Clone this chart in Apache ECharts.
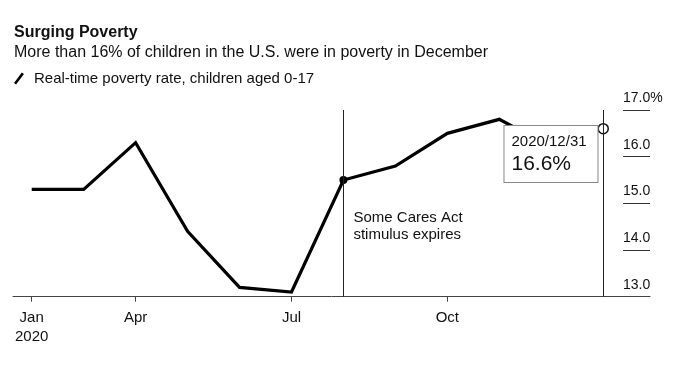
<!DOCTYPE html>
<html>
<head>
<meta charset="utf-8">
<script src="https://cdn.jsdelivr.net/npm/echarts@6/dist/echarts.min.js"></script>
<style>html,body{margin:0;padding:0;background:#fff}#c{width:680px;height:366px}</style>
</head>
<body>
<div id="c"></div>
<script>
const dates = ['2020/01/31','2020/02/29','2020/03/31','2020/04/30','2020/05/31','2020/06/30','2020/07/31','2020/08/31','2020/09/30','2020/10/31','2020/11/30','2020/12/31'];
const rates = [15.3, 15.3, 16.3, 14.4, 13.2, 13.1, 15.5, 15.8, 16.5, 16.8, 16.2, 16.6];
const tickIdx = [0, 2, 5, 8];
const tickLabels = ['Jan\n2020', 'Apr', 'Jul', 'Oct'];
const eventIdx = 6;
const eventText = 'Some Cares Act\nstimulus expires';
const eventTextValue = 14.5;
const lastIdx = 11;
const seriesName = 'Real-time poverty rate, children aged 0-17';
const FONT = 'Liberation Sans, Arial, sans-serif';

const chart = echarts.init(document.getElementById('c'));
const lineData = rates.map((v, i) => [i, v]);
chart.setOption({
  backgroundColor: '#fff',
  animation: false,
  textStyle: { fontFamily: FONT },
  title: [
    { text: 'Surging Poverty', left: 14, top: 25, padding: 0,
      textStyle: { fontSize: 16, fontWeight: 'bold', color: '#111', fontFamily: FONT } },
    { text: 'More than 16% of children in the U.S. were in poverty in December', left: 14, top: 45, padding: 0,
      textStyle: { fontSize: 16, fontWeight: 'normal', color: '#111', fontFamily: FONT } }
  ],
  legend: {
    data: [seriesName], left: 14, top: 71, padding: 0,
    icon: 'path://M0,10 L7.5,0 L9.5,1.5 L2,11.5 Z',
    itemWidth: 10, itemHeight: 12,
    itemStyle: { color: '#000' },
    textStyle: { fontSize: 15, color: '#111', fontFamily: FONT, padding: [0, 0, 0, 5] }
  },
  grid: [
    { left: 13, right: 30, top: 110, bottom: 69.3, containLabel: false },
    { left: 623, right: 30, top: 110, bottom: 69.3, containLabel: false }
  ],
  xAxis: [
    {
      type: 'value', min: -0.36, max: 11.9, gridIndex: 0,
      splitLine: { show: false },
      axisLine: { show: true, lineStyle: { color: '#444', width: 1 } },
      axisTick: { show: true, customValues: tickIdx, length: 5, lineStyle: { color: '#444' } },
      axisLabel: {
        customValues: tickIdx, margin: 12, fontSize: 15, lineHeight: 19, color: '#111', fontFamily: FONT,
        formatter: v => tickLabels[tickIdx.indexOf(Math.round(v))] || ''
      }
    },
    { type: 'value', gridIndex: 1, min: 0, max: 1, show: false }
  ],
  yAxis: [
    {
      type: 'value', position: 'right', gridIndex: 0, offset: -27, min: 13, max: 17, interval: 1,
      splitLine: { show: false },
      axisLine: { show: false },
      axisTick: { show: false },
      axisLabel: {
        inside: false, margin: 0, align: 'left', verticalAlign: 'bottom', padding: [0, 0, 5, 0],
        fontSize: 14, color: '#111', fontFamily: FONT,
        formatter: v => v === 17 ? '17.0%' : v.toFixed(1)
      }
    },
    {
      type: 'value', gridIndex: 1, min: 13, max: 17, interval: 1,
      axisLine: { show: false }, axisTick: { show: false }, axisLabel: { show: false },
      splitLine: { show: true, lineStyle: { color: '#333', width: 1, type: 'solid' } }
    }
  ],
  series: [
    {
      name: seriesName, type: 'line', data: lineData, symbol: 'none', z: 2,
      itemStyle: { color: '#000' },
      lineStyle: { color: '#000', width: 3.2, join: 'miter' },
      markLine: {
        silent: true, symbol: ['none', 'none'],
        lineStyle: { color: '#222', width: 1, type: 'solid' },
        label: { show: false },
        data: [{ xAxis: eventIdx }, { xAxis: lastIdx }]
      },
      markPoint: {
        silent: true, symbol: 'circle', symbolSize: 0,
        data: [{ coord: [eventIdx, eventTextValue] }],
        label: { show: true, position: 'right', distance: 10, formatter: eventText,
          fontSize: 15, lineHeight: 17, color: '#111', fontFamily: FONT }
      }
    },
    {
      type: 'scatter', z: 4, silent: true,
      itemStyle: { opacity: 1 },
      data: [
        { value: [eventIdx, rates[eventIdx]], symbolSize: 8, itemStyle: { color: '#000', opacity: 1 } },
        { value: [lastIdx, rates[lastIdx]], symbolSize: 10,
          itemStyle: { color: '#fff', borderColor: '#111', borderWidth: 1.5, opacity: 1 },
          label: {
            show: true, position: [-93, 3],
            formatter: '{a|' + dates[lastIdx] + '}\n{b|' + rates[lastIdx].toFixed(1) + '%}',
            backgroundColor: '#fff', borderColor: '#888', borderWidth: 1,
            padding: [5, 8, 5, 7], width: 78,
            rich: {
              a: { fontSize: 15, lineHeight: 21, color: '#111', fontFamily: FONT },
              b: { fontSize: 21, lineHeight: 25, color: '#111', fontFamily: FONT }
            }
          }
        }
      ]
    }
  ]
});
</script>
</body>
</html>
